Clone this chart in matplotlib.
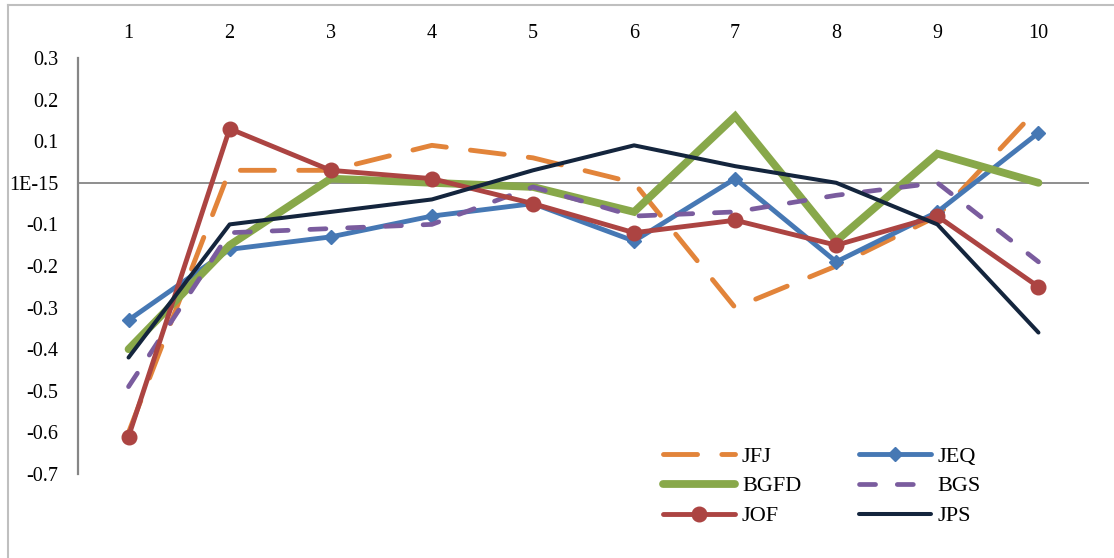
import matplotlib
matplotlib.use("Agg")
import matplotlib.pyplot as plt
from matplotlib.lines import Line2D

# Categories and series values
categories = [1, 2, 3, 4, 5, 6, 7, 8, 9, 10]
jfj = [-0.60, 0.03, 0.03, 0.09, 0.06, 0.00, -0.30, -0.20, -0.08, 0.18]
jeq = [-0.33, -0.16, -0.13, -0.08, -0.05, -0.14, 0.01, -0.19, -0.07, 0.12]
bgfd = [-0.40, -0.15, 0.01, 0.00, -0.01, -0.07, 0.16, -0.14, 0.07, 0.00]
bgs = [-0.49, -0.12, -0.11, -0.10, -0.01, -0.08, -0.07, -0.03, 0.00, -0.19]
jof = [-0.61, 0.13, 0.03, 0.01, -0.05, -0.12, -0.09, -0.15, -0.08, -0.25]
jps = [-0.42, -0.10, -0.07, -0.04, 0.03, 0.09, 0.04, 0.00, -0.10, -0.36]

y_ticks = [0.3, 0.2, 0.1, 0.0, -0.1, -0.2, -0.3, -0.4, -0.5, -0.6, -0.7]
y_tick_labels = ["0.3", "0.2", "0.1", "1E-15", "-0.1", "-0.2", "-0.3",
                 "-0.4", "-0.5", "-0.6", "-0.7"]

plt.rcParams["font.family"] = ["Liberation Serif", "DejaVu Serif"]

W, H = 1114, 558
fig = plt.figure(figsize=(W / 100, H / 100), dpi=100)
ax = fig.add_axes([78 / W, 1 - 474 / H, 1011 / W, 416 / H])

grey = "#868686"
c_orange = "#E2843A"
c_blue = "#4678B4"
c_green = "#88A84A"
c_purple = "#7A5C9E"
c_red = "#AC4442"
c_navy = "#14253D"

l_jfj, = ax.plot(categories, jfj, color=c_orange, lw=3.5, dashes=(7, 5),
                 dash_capstyle="round", solid_capstyle="round", label="JFJ")
l_jeq, = ax.plot(categories, jeq, color=c_blue, lw=3.5, marker="D", ms=7.5,
                 solid_capstyle="round", label="JEQ")
l_bgfd, = ax.plot(categories, bgfd, color=c_green, lw=5.6,
                  solid_capstyle="round", solid_joinstyle="miter", label="BGFD")
l_bgs, = ax.plot(categories, bgs, color=c_purple, lw=3.4, dashes=(3.4, 4.6),
                 dash_capstyle="round", label="BGS")
l_jof, = ax.plot(categories, jof, color=c_red, lw=3.5, marker="o", ms=10.5,
                 solid_capstyle="round", label="JOF")
l_jps, = ax.plot(categories, jps, color=c_navy, lw=2.9,
                 solid_capstyle="round", label="JPS")

ax.set_xlim(0.5, 10.5)
ax.set_ylim(-0.7, 0.3)

# Zero line acting as the category axis
ax.axhline(0, color=grey, lw=1.3, zorder=0.5)

for s in ["top", "right", "bottom"]:
    ax.spines[s].set_visible(False)
ax.spines["left"].set_color(grey)
ax.spines["left"].set_linewidth(1.6)

ax.set_yticks(y_ticks)
ax.set_yticklabels(y_tick_labels)
ax.tick_params(axis="y", length=0, pad=14, labelsize=14.5)

ax.xaxis.tick_top()
ax.set_xticks(categories)
ax.set_xticklabels([str(c) for c in categories])
ax.tick_params(axis="x", length=0, pad=11, labelsize=14.5)

handles = [l_jfj, l_bgfd, l_jof, l_jeq, l_bgs, l_jps]
ax.legend(handles=handles, labels=[h.get_label() for h in handles], ncol=2,
          frameon=False, fontsize=16, handlelength=3.25, handletextpad=0.3,
          columnspacing=2.6, labelspacing=0.42,
          loc="upper left", bbox_to_anchor=(663 / W, 1 - 446 / H),
          bbox_transform=fig.transFigure, borderaxespad=0, borderpad=0)

# Outer chart border (top and left edges)
fig.add_artist(Line2D([8 / W, 1.0], [1 - 5 / H, 1 - 5 / H], color="#BFBFBF",
                      lw=1.5, transform=fig.transFigure))
fig.add_artist(Line2D([8 / W, 8 / W], [0.0, 1 - 5 / H], color="#BFBFBF",
                      lw=1.5, transform=fig.transFigure))

fig.savefig("out.png", dpi=100)
